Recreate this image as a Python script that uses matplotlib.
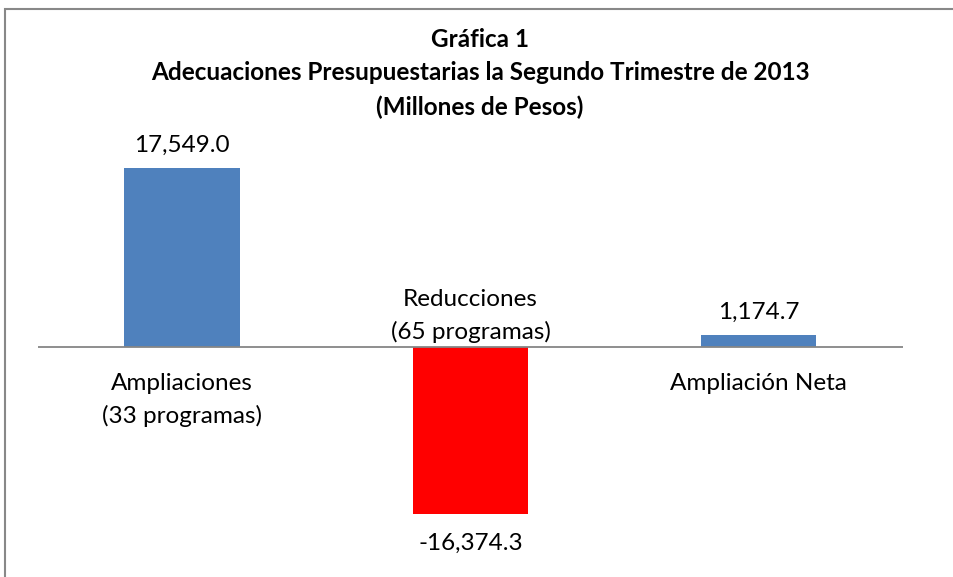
import matplotlib.pyplot as plt
from matplotlib.patches import Rectangle

plt.rcParams['font.family'] = ['Lato', 'DejaVu Sans']

categorias = ['Ampliaciones\n(33 programas)', 'Reducciones\n(65 programas)', 'Ampliación Neta']
valores = [17549.0, -16374.3, 1174.7]
colores = ['#4F81BD', '#FF0000', '#4F81BD']
titulo = 'Gráfica 1\nAdecuaciones Presupuestarias la Segundo Trimestre de 2013\n(Millones de Pesos)'

W, H = 954, 577
fig = plt.figure(figsize=(W / 100, H / 100), dpi=100)

# area del grafico: cero en y=347 px, ~0.0102 px por unidad
ymin, ymax = -20000, 20000
top_px = 347 - ymax * 0.0102
bot_px = 347 - ymin * 0.0102
ax = fig.add_axes([38 / W, 1 - bot_px / H, (903 - 38) / W, (bot_px - top_px) / H])

x = range(len(valores))
ax.bar(x, valores, width=0.4, color=colores)
ax.set_xlim(-0.5, 2.5)
ax.set_ylim(ymin, ymax)
ax.axhline(0, color='#868686', lw=1.3)
ax.axis('off')

fs = 17.5

# etiquetas de valores
for i, v in enumerate(valores):
    off = 16.5 if v > 0 else -21
    ax.annotate(f'{v:,.1f}', (i, v), xytext=(0, off), textcoords='offset points',
                ha='center', va='center', fontsize=fs)

# etiquetas de categorias
for i, (c, v) in enumerate(zip(categorias, valores)):
    if i == 1:
        ax.annotate(c, (i, 0), xytext=(0, 3), textcoords='offset points',
                    ha='center', va='bottom', fontsize=fs, linespacing=1.6)
    else:
        ax.annotate(c, (i, 0), xytext=(0, -19), textcoords='offset points',
                    ha='center', va='top', fontsize=fs, linespacing=1.6)

fig.text(480 / W, 1 - 28 / H, titulo, ha='center', va='top', fontsize=fs,
         fontweight='bold', linespacing=1.55)

# borde del area del grafico
fig.patches.append(Rectangle((5 / W, -0.1), 1.2, 1 - 9 / H + 0.1, transform=fig.transFigure,
                             fill=False, edgecolor='#888888', lw=1.5, clip_on=False))

fig.savefig('out.png', dpi=100)
